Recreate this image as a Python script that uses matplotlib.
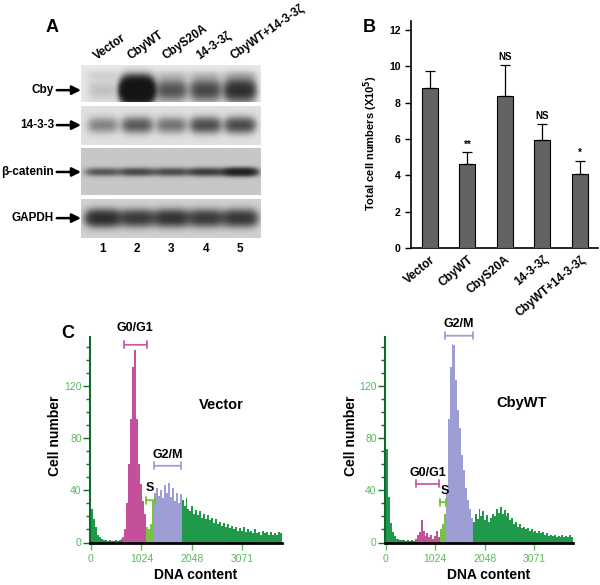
"""
Cby / 14-3-3 figure: western blot (A), cell counts (B), cell-cycle histograms (C)
"""

import numpy as np
import matplotlib
matplotlib.use("Agg")
import matplotlib.pyplot as plt
from matplotlib.ticker import MultipleLocator

plt.rcParams["font.family"] = ["Liberation Sans", "DejaVu Sans"]

# ---------------- data ----------------
LANES = [1, 2, 3, 4, 5]
LANE_LABELS = ["Vector", "CbyWT", "CbyS20A", "14-3-3ζ", "CbyWT+14-3-3ζ"]
BLOT_NAMES = ["Cby", "14-3-3", "β-catenin", "GAPDH"]

# band darkness per lane (optical density, saturating)
CBY_BAND = [0.2, 8.0, 1.2, 1.4, 2.1]
CBY_UPPER = [0.1, 0.0, 0.12, 0.12, 0.15]
BAND_1433 = [0.6, 1.05, 0.75, 1.25, 1.3]
BAND_BCAT = [1.0, 1.25, 1.2, 1.5, 2.6]
BAND_GAPDH = [2.0, 1.6, 1.8, 1.6, 1.7]

# panel B: total cell numbers (x10^5)
GROUPS = ["Vector", "CbyWT", "CbyS20A", "14-3-3ζ", "CbyWT+14-3-3ζ"]
CELL_COUNTS = [8.8, 4.62, 8.37, 5.95, 4.07]
CELL_ERR = [0.95, 0.65, 1.7, 0.9, 0.73]
SIGNIF = ["", "**", "NS", "NS", "*"]

# panel C: DNA content histograms, bins of 40 starting at 0
BIN_WIDTH = 40
VECTOR_COUNTS = [
    26, 18, 12, 6, 4, 3, 2, 2, 1, 2,
    1, 1, 2, 1, 2, 3, 4, 10, 30, 60,
    95, 135, 148, 95, 60, 45, 32, 22, 12, 10,
    14, 33, 38, 42, 36, 40, 34, 44, 38, 46,
    35, 42, 32, 38, 30, 37, 33, 28, 34, 26,
    24, 28, 22, 25, 21, 24, 19, 22, 18, 21,
    17, 19, 15, 18, 14, 16, 13, 15, 12, 14,
    11, 13, 10, 12, 9, 11, 9, 12, 8, 10,
    8, 9, 7, 10, 7, 8, 6, 9, 7, 8,
    6, 8, 6, 7, 6, 8, 7,
]
CBYWT_COUNTS = [
    72, 35, 15, 8, 5, 3, 3, 2, 2, 2,
    1, 2, 1, 2, 1, 3, 6, 8, 17, 9,
    5, 7, 4, 6, 3, 5, 9, 4, 10, 14,
    22, 38, 95, 135, 153, 152, 125, 102, 88, 67,
    56, 42, 33, 26, 19, 16, 22, 18, 26, 20,
    24, 17, 21, 16, 19, 22, 20, 26, 23, 27,
    22, 25, 20, 23, 17, 19, 14, 16, 12, 14,
    11, 12, 10, 11, 9, 10, 8, 9, 7, 9,
    7, 8, 6, 7, 5, 6, 5, 6, 4, 5,
    4, 6, 4, 5, 4, 6, 4,
]
# gated fill ranges (DNA content)
VECTOR_GATES = {"G0/G1": (640, 1120), "S": (1120, 1280), "G2/M": (1280, 1840)}
CBYWT_GATES = {"G0/G1": (600, 1120), "S": (1120, 1240), "G2/M": (1240, 1800)}
# bracket markers: (start, end, height, label x, label y)
VECTOR_BRACKETS = {
    "G0/G1": (663, 1136, 152, 900, 160),
    "S": (1122, 1292, 32.5, 1196, 37),
    "G2/M": (1278, 1832, 59, 1555, 63),
}
CBYWT_BRACKETS = {
    "G0/G1": (620, 1110, 45, 865, 49),
    "S": (1115, 1253, 31, 1225, 35),
    "G2/M": (1229, 1808, 159, 1518, 163),
}
DNA_TICKS = [0, 1024, 2048, 3071]

# ---------------- styling ----------------
W, H = 600, 585
fig = plt.figure(figsize=(W / 100, H / 100), dpi=100)

PHASE_COLORS = {"G0/G1": "#c4509c", "S": "#7cc242", "G2/M": "#9c9ed4"}
BRACKET_COLORS = {"G0/G1": "#cc5aa8", "S": "#6cc03c", "G2/M": "#9c9ed8"}
TAIL_GREEN = "#21994a"
TICK_GREEN = "#5cb85c"
SPINE_GREEN = "#0d6b2d"


def add_px_axes(left, top, right, bottom):
    return fig.add_axes([left / W, 1 - bottom / H, (right - left) / W, (bottom - top) / H])


# ---------------- panel A ----------------
X0, X1 = 0.36, 5.61
blot_specs = [
    # rows (px), background, bands (amps, y centre, x spread, y spread)
    ((65, 102), 0.91, [(CBY_BAND, 0.68, 0.45, 0.28), (CBY_UPPER, 0.27, 0.5, 0.12)]),
    ((106, 145), 0.88, [(BAND_1433, 0.49, 0.44, 0.19)]),
    ((148, 195), 0.78, [(BAND_BCAT, 0.51, 0.5, 0.08)]),
    ((199, 238), 0.82, [(BAND_GAPDH, 0.49, 0.5, 0.2)]),
]

blot_axes = []
for name, (rows, bg, bands) in zip(BLOT_NAMES, blot_specs):
    ax = add_px_axes(81, rows[0], 261, rows[1])
    xs = np.linspace(X0, X1, 400)
    ys = np.linspace(0, 1, 120)
    X, Y = np.meshgrid(xs, ys)
    dens = np.zeros_like(X)
    for amps, yc, sx, sy in bands:
        for lane, a in zip(LANES, amps):
            dens += a * np.exp(-((X - lane) / sx) ** 4 - ((Y - yc) / sy) ** 2)
    img = bg - (bg - 0.08) * (1 - np.exp(-dens))
    ax.imshow(img, cmap="gray", vmin=0, vmax=1, extent=(X0, X1, 1, 0),
              aspect="auto", interpolation="bilinear")
    ax.set_xlim(X0, X1)
    ax.set_ylim(1, 0)
    ax.axis("off")
    ax.annotate(name, xy=(X0, bands[0][1]), xycoords="data",
                xytext=(-27, 0), textcoords="offset pixels",
                ha="right", va="center", fontsize=8.5, fontweight="bold",
                arrowprops=dict(arrowstyle="-|>", color="black", lw=1.8,
                                mutation_scale=13, shrinkA=0, shrinkB=0))
    blot_axes.append(ax)

for lane, lab in zip(LANES, LANE_LABELS):
    blot_axes[0].text(lane - 0.18, -0.14, lab, rotation=35, rotation_mode="anchor",
                      ha="left", va="baseline", fontsize=8.5, fontweight="bold")
    blot_axes[-1].text(lane, 1.27, str(lane), ha="center", va="center",
                       fontsize=8.5, fontweight="bold")

fig.text(52 / W, 1 - 28 / H, "A", fontsize=13, fontweight="bold", ha="center", va="center")

# ---------------- panel B ----------------
axb = add_px_axes(411, 21, 598, 248)
xpos = np.arange(len(GROUPS))
axb.bar(xpos, CELL_COUNTS, width=0.43, color="#636363", edgecolor="black", linewidth=0.8,
        yerr=[np.zeros(len(CELL_ERR)), CELL_ERR], capsize=3.5,
        error_kw=dict(ecolor="black", elinewidth=0.9, capthick=0.9), zorder=3)
for x, v, e, s in zip(xpos, CELL_COUNTS, CELL_ERR, SIGNIF):
    if s:
        axb.text(x, v + e + 0.15, s, ha="center", va="bottom", fontsize=7, fontweight="bold")
axb.set_xlim(-0.5, 4.48)
axb.set_ylim(0, 12.5)
axb.set_yticks(range(0, 13, 2))
axb.set_xticks(xpos)
axb.set_xticklabels(GROUPS, rotation=40, ha="right", rotation_mode="anchor",
                    fontsize=8.5, fontweight="bold")
for t in axb.get_yticklabels():
    t.set_fontweight("bold")
axb.tick_params(axis="y", labelsize=7.5, length=4, width=1)
axb.tick_params(axis="x", length=0, pad=4)
axb.spines["top"].set_visible(False)
axb.spines["right"].set_visible(False)
axb.spines["left"].set_linewidth(1.2)
axb.spines["bottom"].set_linewidth(1.2)
axb.set_ylabel("Total cell numbers (X10$^{\\mathbf{5}}$)", fontsize=8, fontweight="bold")
axb.yaxis.set_label_coords(-0.166, 0.46)
fig.text(369 / W, 1 - 27 / H, "B", fontsize=13, fontweight="bold", ha="center", va="center")

# ---------------- panel C ----------------
def draw_histogram(ax, counts, gates, brackets, title, title_pos):
    starts = np.arange(len(counts)) * BIN_WIDTH
    colors = []
    for s in starts:
        c = TAIL_GREEN
        for phase, (g0, g1) in gates.items():
            if g0 <= s < g1:
                c = PHASE_COLORS[phase]
        colors.append(c)
    ax.bar(starts, counts, width=BIN_WIDTH, align="edge", color=colors, linewidth=0)
    for phase, (b0, b1, by, lx, ly) in brackets.items():
        ax.annotate("", xy=(b0, by), xytext=(b1, by), annotation_clip=False,
                    arrowprops=dict(arrowstyle="|-|, widthA=0.25, widthB=0.25",
                                    color=BRACKET_COLORS[phase], lw=1.3,
                                    shrinkA=0, shrinkB=0))
        ax.text(lx, ly, phase, ha="center", va="bottom", fontsize=9, fontweight="bold")
    ax.text(title_pos[0], title_pos[1], title, ha="center", va="center",
            fontsize=10.5, fontweight="bold")
    ax.set_xlim(-20, 3880)
    ax.set_ylim(0, 158)
    ax.set_xticks(DNA_TICKS)
    ax.set_yticks([0, 40, 80, 120])
    ax.yaxis.set_minor_locator(MultipleLocator(10))
    ax.tick_params(axis="y", which="major", length=5, width=1, color=SPINE_GREEN,
                   labelcolor=TICK_GREEN, labelsize=7.5, pad=1)
    ax.tick_params(axis="y", which="minor", length=3, width=1, color=SPINE_GREEN)
    ax.tick_params(axis="x", length=5, width=1, color=TICK_GREEN,
                   labelcolor=TICK_GREEN, labelsize=7.5)
    ax.spines["top"].set_visible(False)
    ax.spines["right"].set_visible(False)
    ax.spines["left"].set_color(SPINE_GREEN)
    ax.spines["left"].set_linewidth(1.5)
    ax.spines["bottom"].set_linewidth(2)
    ax.set_ylabel("Cell number", fontsize=10, fontweight="bold")
    ax.set_xlabel("DNA content", fontsize=10, fontweight="bold")
    ax.yaxis.set_label_coords(-0.145, 0.52)
    ax.xaxis.set_label_coords(0.55, -0.123)


axl = add_px_axes(90, 337, 282, 542.5)
draw_histogram(axl, VECTOR_COUNTS, VECTOR_GATES, VECTOR_BRACKETS, "Vector", (2650, 106))
axr = add_px_axes(385, 337, 573, 542.5)
draw_histogram(axr, CBYWT_COUNTS, CBYWT_GATES, CBYWT_BRACKETS, "CbyWT", (2818, 107))
fig.text(68 / W, 1 - 333 / H, "C", fontsize=13, fontweight="bold", ha="center", va="center")

fig.savefig("out.png", dpi=100)
